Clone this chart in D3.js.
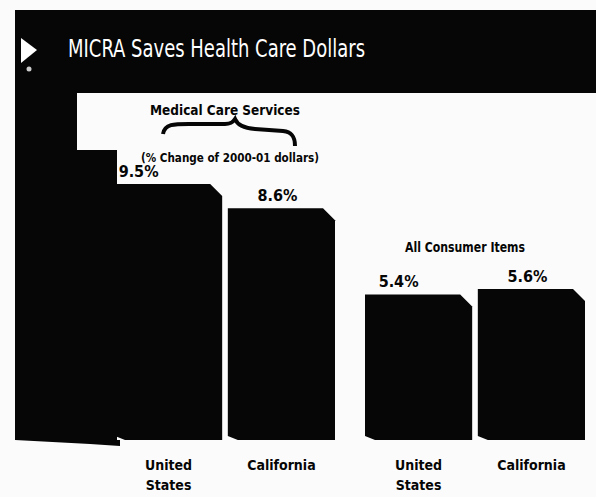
<!DOCTYPE html>
<html lang="en">
<head>
    <meta charset="UTF-8">
    <title>MICRA Saves Health Care Dollars</title>
    <script src="https://cdn.jsdelivr.net/npm/d3@7"></script>
    <style>
        body { margin: 0; background: #fbfbfb; }
        text { font-family: "DejaVu Sans Condensed", "DejaVu Sans", sans-serif; font-stretch: condensed; }
    </style>
</head>
<body>
<svg width="596" height="497"></svg>
<script>
    // data
    var groups = ["Medical Care Services", "All Consumer Items"];
    var regions = ["United States", "California"];
    var medicalValues = [9.5, 8.6];
    var consumerValues = [5.4, 5.6];
    var regionLabels = [["United", "States"], ["California"]];

    var width = 596, height = 497;
    var svg = d3.select("svg");
    var ink = "#060606";

    var rows = [];
    groups.forEach(function (g, gi) {
        var vals = gi === 0 ? medicalValues : consumerValues;
        regions.forEach(function (r, ri) {
            rows.push({group: g, region: r, value: vals[ri], label: regionLabels[ri]});
        });
    });

    var x0 = d3.scaleBand().domain(groups).range([115, 585]).paddingInner(0.12);
    var x1 = d3.scaleBand().domain(regions).range([0, x0.bandwidth()]).paddingInner(0.05);
    var y = d3.scaleLinear().domain([0, 9.5]).range([440, 184]);

    // header band
    svg.append("rect").attr("x", 15).attr("y", 10).attr("width", width - 15).attr("height", 83).attr("fill", ink);
    // dark left panel
    svg.append("rect").attr("x", 15).attr("y", 90).attr("width", 62).attr("height", 350).attr("fill", ink);
    svg.append("rect").attr("x", 15).attr("y", 150).attr("width", 102).attr("height", 290).attr("fill", ink);
    svg.append("path").attr("d", "M15,440 L120,440 L120,446 L90,444 Z").attr("fill", ink);

    // play triangle
    svg.append("path").attr("d", "M21,38 L37,50 L21,63 Z").attr("fill", "#fff");
    svg.append("circle").attr("cx", 29).attr("cy", 69).attr("r", 2.5).attr("fill", "#ccc");

    svg.append("text")
        .attr("x", 68).attr("y", 57)
        .attr("fill", "#fff")
        .attr("font-size", 24)
        .attr("textLength", 297)
        .attr("lengthAdjust", "spacingAndGlyphs")
        .text("MICRA Saves Health Care Dollars");

    // bars with chamfered top-right corner
    function barPath(d) {
        var left = x0(d.group) + x1(d.region);
        var right = left + x1.bandwidth();
        var top = y(d.value), bottom = y(0);
        var c = 12;
        return "M" + left + "," + (bottom - 4) +
            " L" + left + "," + top +
            " L" + (right - c) + "," + top +
            " L" + right + "," + (top + c) +
            " L" + right + "," + bottom +
            " L" + (left + 10) + "," + bottom + " Z";
    }

    svg.selectAll("path.bar")
        .data(rows)
        .enter()
        .append("path")
        .attr("class", "bar")
        .attr("d", barPath)
        .attr("fill", ink);

    // value labels
    var labelOffset = [-30, -4, -20, -4];
    svg.selectAll("text.value")
        .data(rows)
        .enter()
        .append("text")
        .attr("class", "value")
        .attr("x", function (d, i) { return x0(d.group) + x1(d.region) + x1.bandwidth() / 2 + labelOffset[i]; })
        .attr("y", function (d) { return y(d.value) - 7; })
        .attr("text-anchor", "middle")
        .attr("font-size", 16)
        .attr("font-weight", "bold")
        .attr("fill", ink)
        .text(function (d) { return d.value.toFixed(1) + "%"; });

    // category labels
    var cat = svg.selectAll("text.cat")
        .data(rows)
        .enter()
        .append("text")
        .attr("class", "cat")
        .attr("x", function (d) { return x0(d.group) + x1(d.region) + x1.bandwidth() / 2; })
        .attr("y", 470)
        .attr("text-anchor", "middle")
        .attr("font-size", 14)
        .attr("font-weight", "bold")
        .attr("fill", ink);
    cat.selectAll("tspan")
        .data(function (d) { return d.label; })
        .enter()
        .append("tspan")
        .attr("x", function () { return d3.select(this.parentNode).attr("x"); })
        .attr("dy", function (d, i) { return i === 0 ? 0 : 20; })
        .text(function (d) { return d; });

    // medical care annotation
    var m0 = x0(groups[0]);
    svg.append("text")
        .attr("x", m0 + 110).attr("y", 115)
        .attr("text-anchor", "middle")
        .attr("font-size", 14).attr("font-weight", "bold").attr("fill", ink)
        .attr("textLength", 150)
        .attr("lengthAdjust", "spacingAndGlyphs")
        .text("Medical Care Services");
    svg.append("path")
        .attr("d", "M" + (m0 + 48) + ",134 C" + (m0 + 50) + ",123 " + (m0 + 60) + ",124 " + (m0 + 80) + ",124" +
            " L" + (m0 + 110) + ",124 C" + (m0 + 116) + ",124 " + (m0 + 118) + ",122 " + (m0 + 120) + ",119" +
            " C" + (m0 + 122) + ",124 " + (m0 + 128) + ",128 " + (m0 + 140) + ",129" +
            " L" + (m0 + 168) + ",131 C" + (m0 + 178) + ",132 " + (m0 + 180) + ",138 " + (m0 + 180) + ",146")
        .attr("fill", "none").attr("stroke", ink).attr("stroke-width", 4);
    svg.append("text")
        .attr("x", m0 + 115).attr("y", 162)
        .attr("text-anchor", "middle")
        .attr("font-size", 13).attr("font-weight", "bold").attr("fill", ink)
        .attr("textLength", 178)
        .attr("lengthAdjust", "spacingAndGlyphs")
        .text("(% Change of 2000-01 dollars)");

    // all consumer items annotation
    var c0 = x0(groups[1]);
    svg.append("text")
        .attr("x", c0 + 100).attr("y", 252)
        .attr("text-anchor", "middle")
        .attr("font-size", 14).attr("font-weight", "bold").attr("fill", ink)
        .attr("textLength", 120)
        .attr("lengthAdjust", "spacingAndGlyphs")
        .text("All Consumer Items");
</script>
</body>
</html>
